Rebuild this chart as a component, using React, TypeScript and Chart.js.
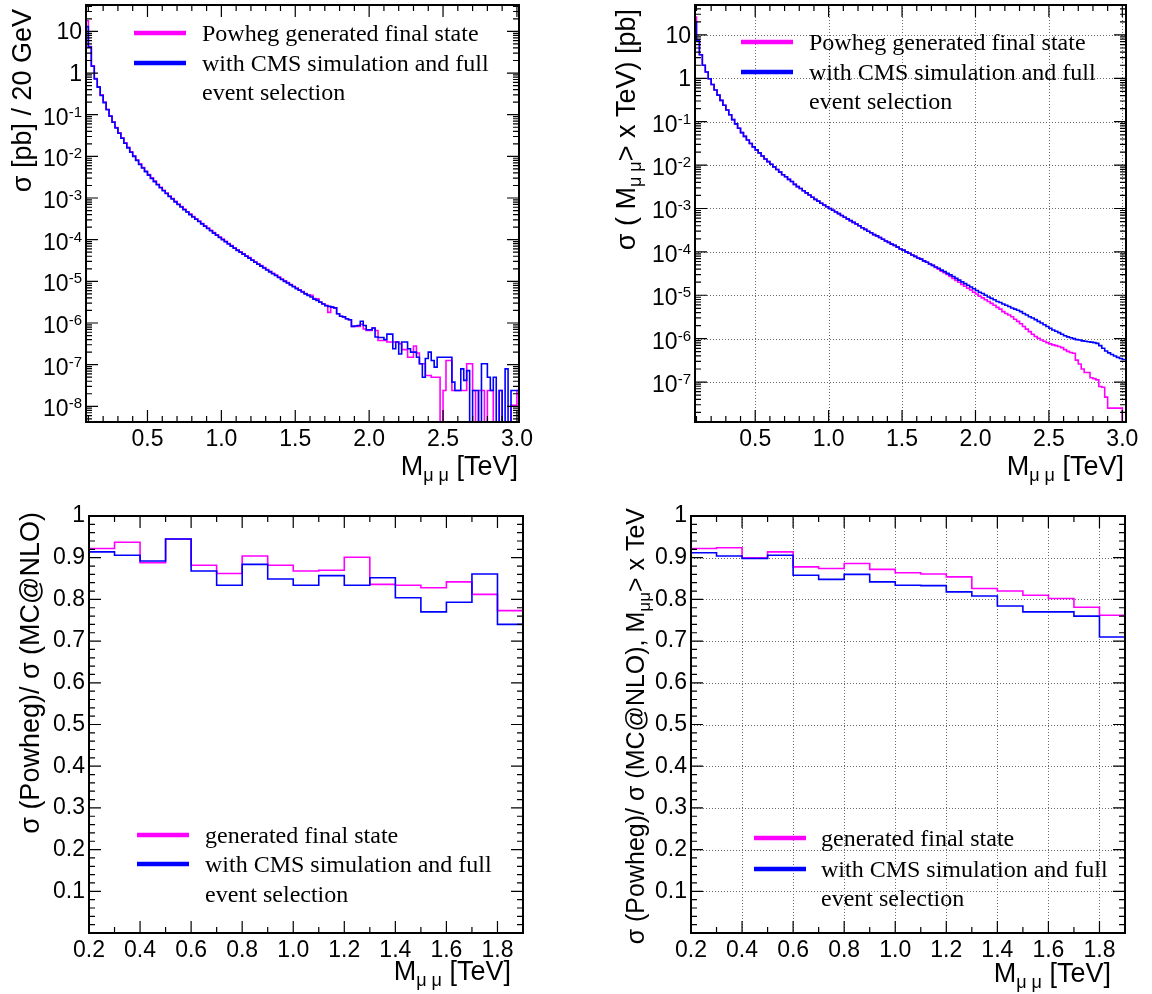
import React, { useEffect, useRef } from 'react';
import { Chart, registerables } from 'chart.js';

Chart.register(...registerables);

// ---------------- data ----------------
// differential cross section, 20 GeV bins starting at 0.08 TeV
const diffBinStartTeV = 0.08;
const diffBinWidthTeV = 0.02;
const diffPowhegGen = [
  18, 4.3, 1.5, 0.74, 0.47, 0.30, 0.20, 0.135, 0.0944, 0.0676,
  0.0495, 0.0369, 0.0279, 0.0213, 0.0165, 0.0129, 0.01026, 8.2e-3, 6.6e-3, 5.4e-3,
  4.4e-3, 3.66e-3, 3.04e-3, 2.55e-3, 2.14e-3, 1.81e-3, 1.54e-3, 1.31e-3, 1.12e-3, 9.7e-4,
  8.3e-4, 7.2e-4, 6.25e-4, 5.4e-4, 4.7e-4, 4.1e-4, 3.6e-4, 3.17e-4, 2.79e-4, 2.45e-4,
  2.16e-4, 1.9e-4, 1.68e-4, 1.48e-4, 1.31e-4, 1.16e-4, 1.03e-4, 9.1e-5, 8.1e-5, 7.2e-5,
  6.4e-5, 5.7e-5, 5.1e-5, 4.6e-5, 4.1e-5, 3.7e-5, 3.3e-5, 2.95e-5, 2.65e-5, 2.38e-5,
  2.14e-5, 1.92e-5, 1.73e-5, 1.56e-5, 1.41e-5, 1.27e-5, 1.14e-5, 1.03e-5, 9.3e-6, 8.4e-6,
  7.6e-6, 6.9e-6, 6.25e-6, 5.7e-6, 5.1e-6, 4.7e-6, 4.6e-6, 3.85e-6, 3.8e-6, 3.2e-6,
  2.9e-6, 2.65e-6, 1.8e-6, 2.4e-6, 2.3e-6, 1.66e-6, 1.45e-6, 1.4e-6, 1.26e-6, 1.2e-6,
  8.3e-7, 8.3e-7, 8.3e-7, 9.3e-7, 7.2e-7, 6.6e-7, 6.6e-7, 7.6e-7, 6.6e-7, 3.8e-7,
  3.8e-7, 3.8e-7, 3.5e-7, 3.5e-7, 3.5e-7, 3.5e-7, 3.2e-7, 2.3e-7, 2.3e-7, 1.5e-7,
  1.5e-7, 2.8e-7, 1.9e-7, 1.05e-7, 1.05e-7, 5.5e-8, 5.5e-8, 5.0e-8, 5.0e-8, 5.0e-8,
  0, 2.4e-8, 1.26e-7, 1.26e-7, 2.4e-8, 2.4e-8, 2.4e-8, 2.4e-8, 2.4e-8, 1.05e-7,
  1.05e-7, 2.4e-8, 0, 2.4e-8, 2.4e-8, 0, 2.4e-8, 2.4e-8, 0, 0,
  2.4e-8, 0, 0, 0, 1.05e-8, 1.05e-8, 2.4e-8,
];
const diffCmsSim = [
  13, 4.2, 1.45, 0.72, 0.46, 0.29, 0.195, 0.131, 0.092, 0.066,
  0.048, 0.036, 0.0272, 0.0207, 0.0160, 0.0125, 0.0100, 8.0e-3, 6.4e-3, 5.25e-3,
  4.3e-3, 3.55e-3, 2.95e-3, 2.48e-3, 2.08e-3, 1.76e-3, 1.5e-3, 1.28e-3, 1.09e-3, 9.45e-4,
  8.1e-4, 7.0e-4, 6.1e-4, 5.25e-4, 4.6e-4, 4.0e-4, 3.5e-4, 3.1e-4, 2.72e-4, 2.4e-4,
  2.1e-4, 1.85e-4, 1.64e-4, 1.44e-4, 1.28e-4, 1.13e-4, 1.0e-4, 8.9e-5, 7.9e-5, 7.0e-5,
  6.25e-5, 5.55e-5, 5.0e-5, 4.5e-5, 4.0e-5, 3.6e-5, 3.2e-5, 2.88e-5, 2.58e-5, 2.32e-5,
  2.09e-5, 1.87e-5, 1.69e-5, 1.52e-5, 1.38e-5, 1.24e-5, 1.11e-5, 1.0e-5, 9.1e-6, 8.2e-6,
  7.4e-6, 6.7e-6, 6.1e-6, 5.55e-6, 5.0e-6, 4.6e-6, 4.2e-6, 3.75e-6, 3.5e-6, 3.15e-6,
  2.85e-6, 2.6e-6, 2.5e-6, 2.4e-6, 2.3e-6, 1.66e-6, 1.45e-6, 1.4e-6, 1.26e-6, 1.2e-6,
  8.3e-7, 8.5e-7, 8.7e-7, 1.1e-6, 8.7e-7, 6.9e-7, 6.9e-7, 7.6e-7, 4.6e-7, 4.5e-7,
  4.5e-7, 4.0e-7, 5.4e-7, 5.4e-7, 2.4e-7, 3.5e-7, 1.8e-7, 3.5e-7, 3.5e-7, 2.4e-7,
  2.0e-7, 2.0e-7, 1.5e-7, 1.05e-7, 5.0e-8, 1.4e-7, 2.0e-7, 1.26e-7, 8.7e-8, 1.5e-7,
  1.5e-7, 1.5e-7, 1.5e-7, 1.5e-7, 3.8e-8, 2.4e-8, 2.4e-8, 7.9e-8, 4.2e-8, 7.2e-8,
  0, 2.4e-8, 2.4e-8, 0, 1.05e-7, 1.05e-7, 5.0e-8, 2.4e-8, 5.0e-8, 0,
  2.4e-8, 0, 7.9e-8, 0, 2.4e-8, 2.4e-8, 2.4e-8,
];

// cumulative cross section sigma(M > x), same binning
const cumBinStartTeV = 0.08;
const cumBinWidthTeV = 0.02;
const cumPowhegGen = [
  26, 7.6, 3.5, 2.0, 1.4, 0.98, 0.72, 0.54, 0.41, 0.31,
  0.24, 0.186, 0.145, 0.112, 0.089, 0.071, 0.056, 0.046, 0.038, 0.0316,
  0.0263, 0.0224, 0.0191, 0.0162, 0.0138, 0.0120, 0.0105, 9.1e-3, 7.9e-3, 6.9e-3,
  6.0e-3, 5.4e-3, 4.7e-3, 4.2e-3, 3.6e-3, 3.2e-3, 2.9e-3, 2.57e-3, 2.29e-3, 2.04e-3,
  1.82e-3, 1.62e-3, 1.48e-3, 1.32e-3, 1.2e-3, 1.1e-3, 1.0e-3, 9.1e-4, 8.3e-4, 7.6e-4,
  6.9e-4, 6.3e-4, 5.75e-4, 5.25e-4, 4.8e-4, 4.4e-4, 4.0e-4, 3.6e-4, 3.3e-4, 3.0e-4,
  2.75e-4, 2.5e-4, 2.34e-4, 2.14e-4, 1.95e-4, 1.78e-4, 1.66e-4, 1.51e-4, 1.41e-4, 1.29e-4,
  1.17e-4, 1.1e-4, 1.0e-4, 9.3e-5, 8.5e-5, 7.9e-5, 7.2e-5, 6.8e-5, 6.2e-5, 5.75e-5,
  5.25e-5, 4.9e-5, 4.4e-5, 4.0e-5, 3.6e-5, 3.3e-5, 3.0e-5, 2.7e-5, 2.45e-5, 2.2e-5,
  2.0e-5, 1.78e-5, 1.62e-5, 1.45e-5, 1.32e-5, 1.17e-5, 1.07e-5, 9.5e-6, 8.7e-6, 7.9e-6,
  7.2e-6, 6.5e-6, 5.9e-6, 5.25e-6, 4.8e-6, 4.2e-6, 3.8e-6, 3.5e-6, 3.2e-6, 2.8e-6,
  2.5e-6, 2.2e-6, 1.9e-6, 1.66e-6, 1.45e-6, 1.26e-6, 1.12e-6, 1.02e-6, 9.3e-7, 8.7e-7,
  8.1e-7, 7.6e-7, 7.2e-7, 6.9e-7, 6.6e-7, 6.2e-7, 5.6e-7, 5.1e-7, 4.8e-7, 4.6e-7,
  3.2e-7, 2.6e-7, 2.0e-7, 1.66e-7, 1.66e-7, 1.26e-7, 1.2e-7, 1.12e-7, 7.9e-8, 7.6e-8,
  4.5e-8, 2.5e-8, 2.5e-8, 2.5e-8, 2.5e-8, 2.5e-8, 0,
];
const cumCmsSim = [
  20, 7.6, 3.5, 2.0, 1.4, 0.98, 0.72, 0.54, 0.41, 0.31,
  0.24, 0.186, 0.145, 0.112, 0.089, 0.071, 0.056, 0.046, 0.038, 0.0316,
  0.0263, 0.0224, 0.0191, 0.0162, 0.0138, 0.0120, 0.0105, 9.1e-3, 7.9e-3, 6.9e-3,
  6.0e-3, 5.4e-3, 4.7e-3, 4.2e-3, 3.6e-3, 3.2e-3, 2.9e-3, 2.57e-3, 2.29e-3, 2.04e-3,
  1.82e-3, 1.62e-3, 1.48e-3, 1.32e-3, 1.2e-3, 1.1e-3, 1.0e-3, 9.1e-4, 8.3e-4, 7.6e-4,
  6.9e-4, 6.3e-4, 5.75e-4, 5.25e-4, 4.8e-4, 4.4e-4, 4.0e-4, 3.6e-4, 3.3e-4, 3.0e-4,
  2.75e-4, 2.5e-4, 2.34e-4, 2.14e-4, 1.95e-4, 1.78e-4, 1.66e-4, 1.51e-4, 1.41e-4, 1.29e-4,
  1.17e-4, 1.1e-4, 1.0e-4, 9.3e-5, 8.5e-5, 7.9e-5, 7.2e-5, 6.8e-5, 6.2e-5, 5.75e-5,
  5.25e-5, 4.9e-5, 4.5e-5, 4.2e-5, 3.8e-5, 3.5e-5, 3.2e-5, 2.95e-5, 2.7e-5, 2.45e-5,
  2.24e-5, 2.04e-5, 1.86e-5, 1.7e-5, 1.55e-5, 1.41e-5, 1.29e-5, 1.17e-5, 1.1e-5, 1.0e-5,
  9.1e-6, 8.5e-6, 7.9e-6, 7.2e-6, 6.8e-6, 6.3e-6, 5.9e-6, 5.5e-6, 5.1e-6, 4.8e-6,
  4.5e-6, 4.2e-6, 3.8e-6, 3.5e-6, 3.2e-6, 3.0e-6, 2.75e-6, 2.5e-6, 2.3e-6, 2.1e-6,
  1.9e-6, 1.74e-6, 1.58e-6, 1.48e-6, 1.38e-6, 1.26e-6, 1.17e-6, 1.1e-6, 1.05e-6, 1.0e-6,
  9.5e-7, 9.3e-7, 8.9e-7, 8.7e-7, 8.5e-7, 8.3e-7, 8.1e-7, 7.8e-7, 6.9e-7, 6.0e-7,
  5.2e-7, 4.7e-7, 4.3e-7, 4.0e-7, 3.7e-7, 3.5e-7, 3.3e-7,
];

// ratios Powheg / MC@NLO, 100 GeV bins from 0.2 TeV
const ratioBinStartTeV = 0.2;
const ratioBinWidthTeV = 0.1;
const ratioDiffGen = [0.922, 0.937, 0.888, 0.945, 0.882, 0.862, 0.904, 0.882, 0.868, 0.870, 0.901, 0.836, 0.834, 0.828, 0.842, 0.812, 0.773];
const ratioDiffSim = [0.914, 0.906, 0.892, 0.945, 0.868, 0.834, 0.884, 0.849, 0.834, 0.857, 0.834, 0.852, 0.804, 0.770, 0.793, 0.861, 0.740];
const ratioCumGen = [0.922, 0.924, 0.900, 0.914, 0.878, 0.874, 0.886, 0.872, 0.864, 0.861, 0.854, 0.826, 0.820, 0.810, 0.802, 0.781, 0.762];
const ratioCumSim = [0.912, 0.904, 0.898, 0.906, 0.858, 0.848, 0.860, 0.842, 0.834, 0.833, 0.818, 0.808, 0.784, 0.770, 0.770, 0.760, 0.710];

// ticks and labels
const topXTickValues = [0.5, 1.0, 1.5, 2.0, 2.5, 3.0];
const topXTickLabels = ['0.5', '1.0', '1.5', '2.0', '2.5', '3.0'];
const bottomXTickValues = [0.2, 0.4, 0.6, 0.8, 1.0, 1.2, 1.4, 1.6, 1.8];
const bottomXTickLabels = ['0.2', '0.4', '0.6', '0.8', '1.0', '1.2', '1.4', '1.6', '1.8'];
const ratioYTickValues = [0.1, 0.2, 0.3, 0.4, 0.5, 0.6, 0.7, 0.8, 0.9, 1.0];
const ratioYTickLabels = ['0.1', '0.2', '0.3', '0.4', '0.5', '0.6', '0.7', '0.8', '0.9', '1'];
const diffYDecades = [-8, -7, -6, -5, -4, -3, -2, -1, 0, 1];
const cumYDecades = [-7, -6, -5, -4, -3, -2, -1, 0, 1];

const topLegendLabels = ['Powheg generated final state', 'with CMS simulation and full', 'event selection'];
const bottomLegendLabels = ['generated final state', 'with CMS simulation and full', 'event selection'];

// ---------------- styling ----------------
const W = 576;
const H = 497;
const SANS = '"Liberation Sans", Arial, Helvetica, sans-serif';
const SERIF = '"Liberation Serif", "Times New Roman", Times, serif';
const MAGENTA = '#ff00ff';
const BLUE = '#0000ff';
const LOG_FLOOR = 1e-14;

function histPoints(values: number[], start: number, width: number, log: boolean) {
  const fix = (v: number) => (log && v <= 0 ? LOG_FLOOR : v);
  const pts = values.map((v, i) => ({ x: start + i * width, y: fix(v) }));
  pts.push({ x: start + values.length * width, y: fix(values[values.length - 1]) });
  return pts;
}

function stepsBetween(a: number, b: number, step: number) {
  const out: number[] = [];
  const n = Math.round((b - a) / step);
  for (let i = 0; i <= n; i++) out.push(+(a + i * step).toFixed(6));
  return out;
}

function logMinor(decades: number[]) {
  const out: number[] = [];
  const lo = Math.min(...decades) - 1;
  const hi = Math.max(...decades) + 1;
  for (let e = lo; e <= hi; e++) for (let m = 2; m <= 9; m++) out.push(m * Math.pow(10, e));
  return out;
}

function runsWidth(ctx: any, runs: any[], size: number, subSize: number, fam: string) {
  let w = 0;
  for (const r of runs) {
    ctx.font = `${r.sub ? subSize : size}px ${fam}`;
    w += ctx.measureText(r.t).width;
  }
  return w;
}
function drawRuns(ctx: any, runs: any[], x: number, y: number, size: number, subSize: number, fam: string, shift: number) {
  let cx = x;
  for (const r of runs) {
    ctx.font = `${r.sub ? subSize : size}px ${fam}`;
    ctx.fillText(r.t, cx, r.sub ? y + shift : y);
    cx += ctx.measureText(r.t).width;
  }
}

const rootStyle = {
  id: 'rootStyle',
  beforeDatasetsDraw(chart: any, _args: any, o: any) {
    if (!o || !o.grid) return;
    const { ctx, chartArea: a } = chart;
    const xs = chart.scales.x;
    const ys = chart.scales.y;
    ctx.save();
    ctx.strokeStyle = '#6a6a6a';
    ctx.lineWidth = 1;
    ctx.setLineDash([1, 2]);
    ctx.beginPath();
    for (const v of o.grid.x) {
      const p = Math.round(xs.getPixelForValue(v)) + 0.5;
      if (p > a.left + 2 && p < a.right - 2) { ctx.moveTo(p, a.top); ctx.lineTo(p, a.bottom); }
    }
    for (const v of o.grid.y) {
      const p = Math.round(ys.getPixelForValue(v)) + 0.5;
      if (p > a.top + 2 && p < a.bottom - 2) { ctx.moveTo(a.left, p); ctx.lineTo(a.right, p); }
    }
    ctx.stroke();
    ctx.restore();
  },
  afterDraw(chart: any, _args: any, o: any) {
    if (!o) return;
    const { ctx, chartArea: a } = chart;
    const xs = chart.scales.x;
    const ys = chart.scales.y;
    ctx.save();
    ctx.setLineDash([]);
    ctx.strokeStyle = '#000';
    ctx.lineWidth = 1.2;
    ctx.beginPath();
    const xt = (vals: number[], len: number) => {
      for (const v of vals) {
        const p = xs.getPixelForValue(v);
        if (p < a.left - 0.5 || p > a.right + 0.5) continue;
        ctx.moveTo(p, a.bottom); ctx.lineTo(p, a.bottom - len);
        ctx.moveTo(p, a.top); ctx.lineTo(p, a.top + len);
      }
    };
    const yt = (vals: number[], len: number) => {
      for (const v of vals) {
        const p = ys.getPixelForValue(v);
        if (p < a.top - 0.5 || p > a.bottom + 0.5) continue;
        ctx.moveTo(a.left, p); ctx.lineTo(a.left + len, p);
        ctx.moveTo(a.right, p); ctx.lineTo(a.right - len, p);
      }
    };
    xt(o.ticks.xMajor, 12); xt(o.ticks.xMinor, 6);
    yt(o.ticks.yMajor, 12); yt(o.ticks.yMinor, 6);
    ctx.stroke();
    ctx.lineWidth = 2;
    ctx.strokeRect(a.left, a.top, a.right - a.left, a.bottom - a.top);

    ctx.fillStyle = '#000';
    ctx.textBaseline = 'alphabetic';
    ctx.textAlign = 'left';
    // log axis labels 10^n
    if (o.logLabels) {
      for (const e of o.logLabels) {
        const y = ys.getPixelForValue(Math.pow(10, e));
        const base = e === 0 ? '1' : '10';
        const sup = e === 0 || e === 1 ? '' : String(e);
        ctx.font = `23px ${SANS}`;
        const bw = ctx.measureText(base).width;
        ctx.font = `15px ${SANS}`;
        const sw = sup ? ctx.measureText(sup).width : 0;
        const right = a.left - 4;
        ctx.font = `23px ${SANS}`;
        ctx.fillText(base, right - sw - bw, sup ? y + 10 : y + 8);
        if (sup) {
          ctx.font = `15px ${SANS}`;
          ctx.fillText(sup, right - sw, y + 2);
        }
      }
    }
    // x title (right aligned)
    if (o.xTitle) {
      const t = o.xTitle;
      const w = runsWidth(ctx, t.runs, t.size, t.sub, SANS);
      drawRuns(ctx, t.runs, t.right - w, t.baseline, t.size, t.sub, SANS, 6);
    }
    // y title (rotated, end at top)
    if (o.yTitle) {
      const t = o.yTitle;
      const w = runsWidth(ctx, t.runs, t.size, t.sub, SANS);
      ctx.save();
      ctx.translate(t.x, t.top);
      ctx.rotate(-Math.PI / 2);
      drawRuns(ctx, t.runs, -w, 0, t.size, t.sub, SANS, 6);
      ctx.restore();
    }
    // legend
    if (o.legend) {
      const L = o.legend;
      L.rows.forEach((row: any, i: number) => {
        const b = L.baselines[i];
        if (row.color) {
          ctx.strokeStyle = row.color;
          ctx.lineWidth = 4.5;
          ctx.beginPath();
          ctx.moveTo(L.lineX0, b - 8);
          ctx.lineTo(L.lineX1, b - 8);
          ctx.stroke();
        }
        ctx.fillStyle = '#000';
        ctx.font = `24px ${SERIF}`;
        ctx.fillText(row.text, L.textX, b);
      });
    }
    ctx.restore();
  },
};

function makeConfig(p: any) {
  const isLog = p.yType === 'logarithmic';
  const ds = (label: string, values: number[], color: string, order: number) => ({
    label,
    data: histPoints(values, p.binStart, p.binWidth, isLog),
    borderColor: color,
    backgroundColor: color,
    borderWidth: 1.6,
    pointRadius: 0,
    fill: false,
    stepped: 'before',
    tension: 0,
    order,
  });
  return {
    type: 'line',
    data: {
      datasets: [
        ds(p.labels[0], p.gen, MAGENTA, 1),
        ds(p.labels[1], p.sim, BLUE, 0),
      ],
    },
    options: {
      responsive: false,
      animation: false,
      events: [],
      layout: { padding: { left: 0, top: p.box.top, right: W - p.box.right, bottom: 0 } },
      plugins: {
        legend: { display: false },
        tooltip: { enabled: false },
        rootStyle: p.style,
      },
      scales: {
        x: {
          type: 'linear',
          min: p.xMin,
          max: p.xMax,
          grid: { display: false, drawTicks: false },
          border: { display: false },
          afterBuildTicks: (s: any) => { s.ticks = p.xTicks.map((v: number) => ({ value: v })); },
          afterFit: (s: any) => { s.height = H - p.box.bottom; },
          ticks: {
            autoSkip: false,
            maxRotation: 0,
            minRotation: 0,
            padding: 4,
            color: '#000',
            font: { family: SANS, size: 23 },
            callback: (_v: any, i: number) => p.xLabels[i],
          },
        },
        y: {
          type: p.yType,
          min: p.yMin,
          max: p.yMax,
          grid: { display: false, drawTicks: false },
          border: { display: false },
          afterBuildTicks: isLog ? undefined : (s: any) => { s.ticks = p.yTicks.map((v: number) => ({ value: v })); },
          afterFit: (s: any) => { s.width = p.box.left; },
          ticks: isLog
            ? { display: false }
            : {
                autoSkip: false,
                padding: 4,
                color: '#000',
                font: { family: SANS, size: 23 },
                callback: (_v: any, i: number) => p.yLabels[i],
              },
        },
      },
    },
    plugins: [rootStyle],
  };
}

const topXMinor = stepsBetween(0.1, 3.0, 0.1);
const bottomXMinor = stepsBetween(0.1, 1.9, 0.1);
const ratioYMinor = stepsBetween(0.02, 1.0, 0.02);
const diffDecadeValues = diffYDecades.map((e) => Math.pow(10, e));
const cumDecadeValues = cumYDecades.map((e) => Math.pow(10, e));

const mmRuns = [{ t: 'M' }, { t: 'μ μ', sub: true }, { t: ' [TeV]' }];

const panels: any[] = [
  {
    left: 0, top: 0,
    box: { left: 86, top: 5, right: 519, bottom: 422 },
    binStart: diffBinStartTeV, binWidth: diffBinWidthTeV,
    gen: diffPowhegGen, sim: diffCmsSim,
    labels: [topLegendLabels[0], topLegendLabels[1]],
    xMin: 0.084, xMax: 3.014, xTicks: topXTickValues, xLabels: topXTickLabels,
    yType: 'logarithmic', yMin: 4.2e-9, yMax: 43,
    style: {
      ticks: { xMajor: topXTickValues, xMinor: topXMinor, yMajor: diffDecadeValues, yMinor: logMinor(diffYDecades) },
      logLabels: diffYDecades,
      xTitle: { runs: mmRuns, right: 518, baseline: 475, size: 27, sub: 18 },
      yTitle: { runs: [{ t: 'σ [pb] / 20 GeV' }], x: 31, top: 9, size: 27, sub: 18 },
      legend: {
        lineX0: 134, lineX1: 186, textX: 202, baselines: [41, 71, 100],
        rows: [
          { color: MAGENTA, text: topLegendLabels[0] },
          { color: BLUE, text: topLegendLabels[1] },
          { text: topLegendLabels[2] },
        ],
      },
    },
  },
  {
    left: 576, top: 0,
    box: { left: 119, top: 5, right: 550, bottom: 422 },
    binStart: cumBinStartTeV, binWidth: cumBinWidthTeV,
    gen: cumPowhegGen, sim: cumCmsSim,
    labels: [topLegendLabels[0], topLegendLabels[1]],
    xMin: 0.09, xMax: 3.025, xTicks: topXTickValues, xLabels: topXTickLabels,
    yType: 'logarithmic', yMin: 1.2e-8, yMax: 49,
    style: {
      grid: { x: topXTickValues, y: cumDecadeValues },
      ticks: { xMajor: topXTickValues, xMinor: topXMinor, yMajor: cumDecadeValues, yMinor: logMinor(cumYDecades) },
      logLabels: cumYDecades,
      xTitle: { runs: mmRuns, right: 548, baseline: 475, size: 27, sub: 18 },
      yTitle: { runs: [{ t: 'σ ( M' }, { t: 'μ μ', sub: true }, { t: '> x TeV) [pb]' }], x: 59, top: 9, size: 27, sub: 18 },
      legend: {
        lineX0: 165, lineX1: 217, textX: 233, baselines: [50, 80, 109],
        rows: [
          { color: MAGENTA, text: topLegendLabels[0] },
          { color: BLUE, text: topLegendLabels[1] },
          { text: topLegendLabels[2] },
        ],
      },
    },
  },
  {
    left: 0, top: 497,
    box: { left: 89, top: 19, right: 523, bottom: 436 },
    binStart: ratioBinStartTeV, binWidth: ratioBinWidthTeV,
    gen: ratioDiffGen, sim: ratioDiffSim,
    labels: [bottomLegendLabels[0], bottomLegendLabels[1]],
    xMin: 0.2, xMax: 1.9, xTicks: bottomXTickValues, xLabels: bottomXTickLabels,
    yType: 'linear', yMin: 0, yMax: 1, yTicks: ratioYTickValues, yLabels: ratioYTickLabels,
    style: {
      ticks: { xMajor: bottomXTickValues, xMinor: bottomXMinor, yMajor: ratioYTickValues, yMinor: ratioYMinor },
      xTitle: { runs: mmRuns, right: 511, baseline: 483, size: 27, sub: 18 },
      yTitle: { runs: [{ t: 'σ (Powheg)/ σ (MC@NLO)' }], x: 39, top: 15, size: 27, sub: 18 },
      legend: {
        lineX0: 137, lineX1: 189, textX: 205, baselines: [346, 375, 405],
        rows: [
          { color: MAGENTA, text: bottomLegendLabels[0] },
          { color: BLUE, text: bottomLegendLabels[1] },
          { text: bottomLegendLabels[2] },
        ],
      },
    },
  },
  {
    left: 576, top: 497,
    box: { left: 115, top: 19, right: 549, bottom: 436 },
    binStart: ratioBinStartTeV, binWidth: ratioBinWidthTeV,
    gen: ratioCumGen, sim: ratioCumSim,
    labels: [bottomLegendLabels[0], bottomLegendLabels[1]],
    xMin: 0.2, xMax: 1.9, xTicks: bottomXTickValues, xLabels: bottomXTickLabels,
    yType: 'linear', yMin: 0, yMax: 1, yTicks: ratioYTickValues, yLabels: ratioYTickLabels,
    style: {
      grid: { x: bottomXTickValues, y: ratioYTickValues },
      ticks: { xMajor: bottomXTickValues, xMinor: bottomXMinor, yMajor: ratioYTickValues, yMinor: ratioYMinor },
      xTitle: { runs: mmRuns, right: 535, baseline: 485, size: 27, sub: 18 },
      yTitle: { runs: [{ t: 'σ (Powheg)/ σ (MC@NLO), M' }, { t: 'μμ', sub: true }, { t: '> x TeV' }], x: 68, top: 11, size: 25, sub: 17 },
      legend: {
        lineX0: 178, lineX1: 230, textX: 245, baselines: [349, 380, 409],
        rows: [
          { color: MAGENTA, text: bottomLegendLabels[0] },
          { color: BLUE, text: bottomLegendLabels[1] },
          { text: bottomLegendLabels[2] },
        ],
      },
    },
  },
];

function Panel({ p }: { p: any }) {
  const ref = useRef<HTMLCanvasElement | null>(null);
  useEffect(() => {
    if (!ref.current) return;
    const chart = new Chart(ref.current, makeConfig(p) as any);
    return () => chart.destroy();
  }, [p]);
  return (
    <canvas
      ref={ref}
      width={W}
      height={H}
      style={{ position: 'absolute', left: p.left, top: p.top, width: W, height: H, display: 'block' }}
    />
  );
}

export default function App() {
  useEffect(() => {
    document.body.style.margin = '0';
    document.body.style.background = '#fff';
  }, []);
  return (
    <div style={{ position: 'absolute', left: 0, top: 0, width: 1152, height: 994, background: '#fff' }}>
      {panels.map((p, i) => (
        <Panel key={i} p={p} />
      ))}
    </div>
  );
}
